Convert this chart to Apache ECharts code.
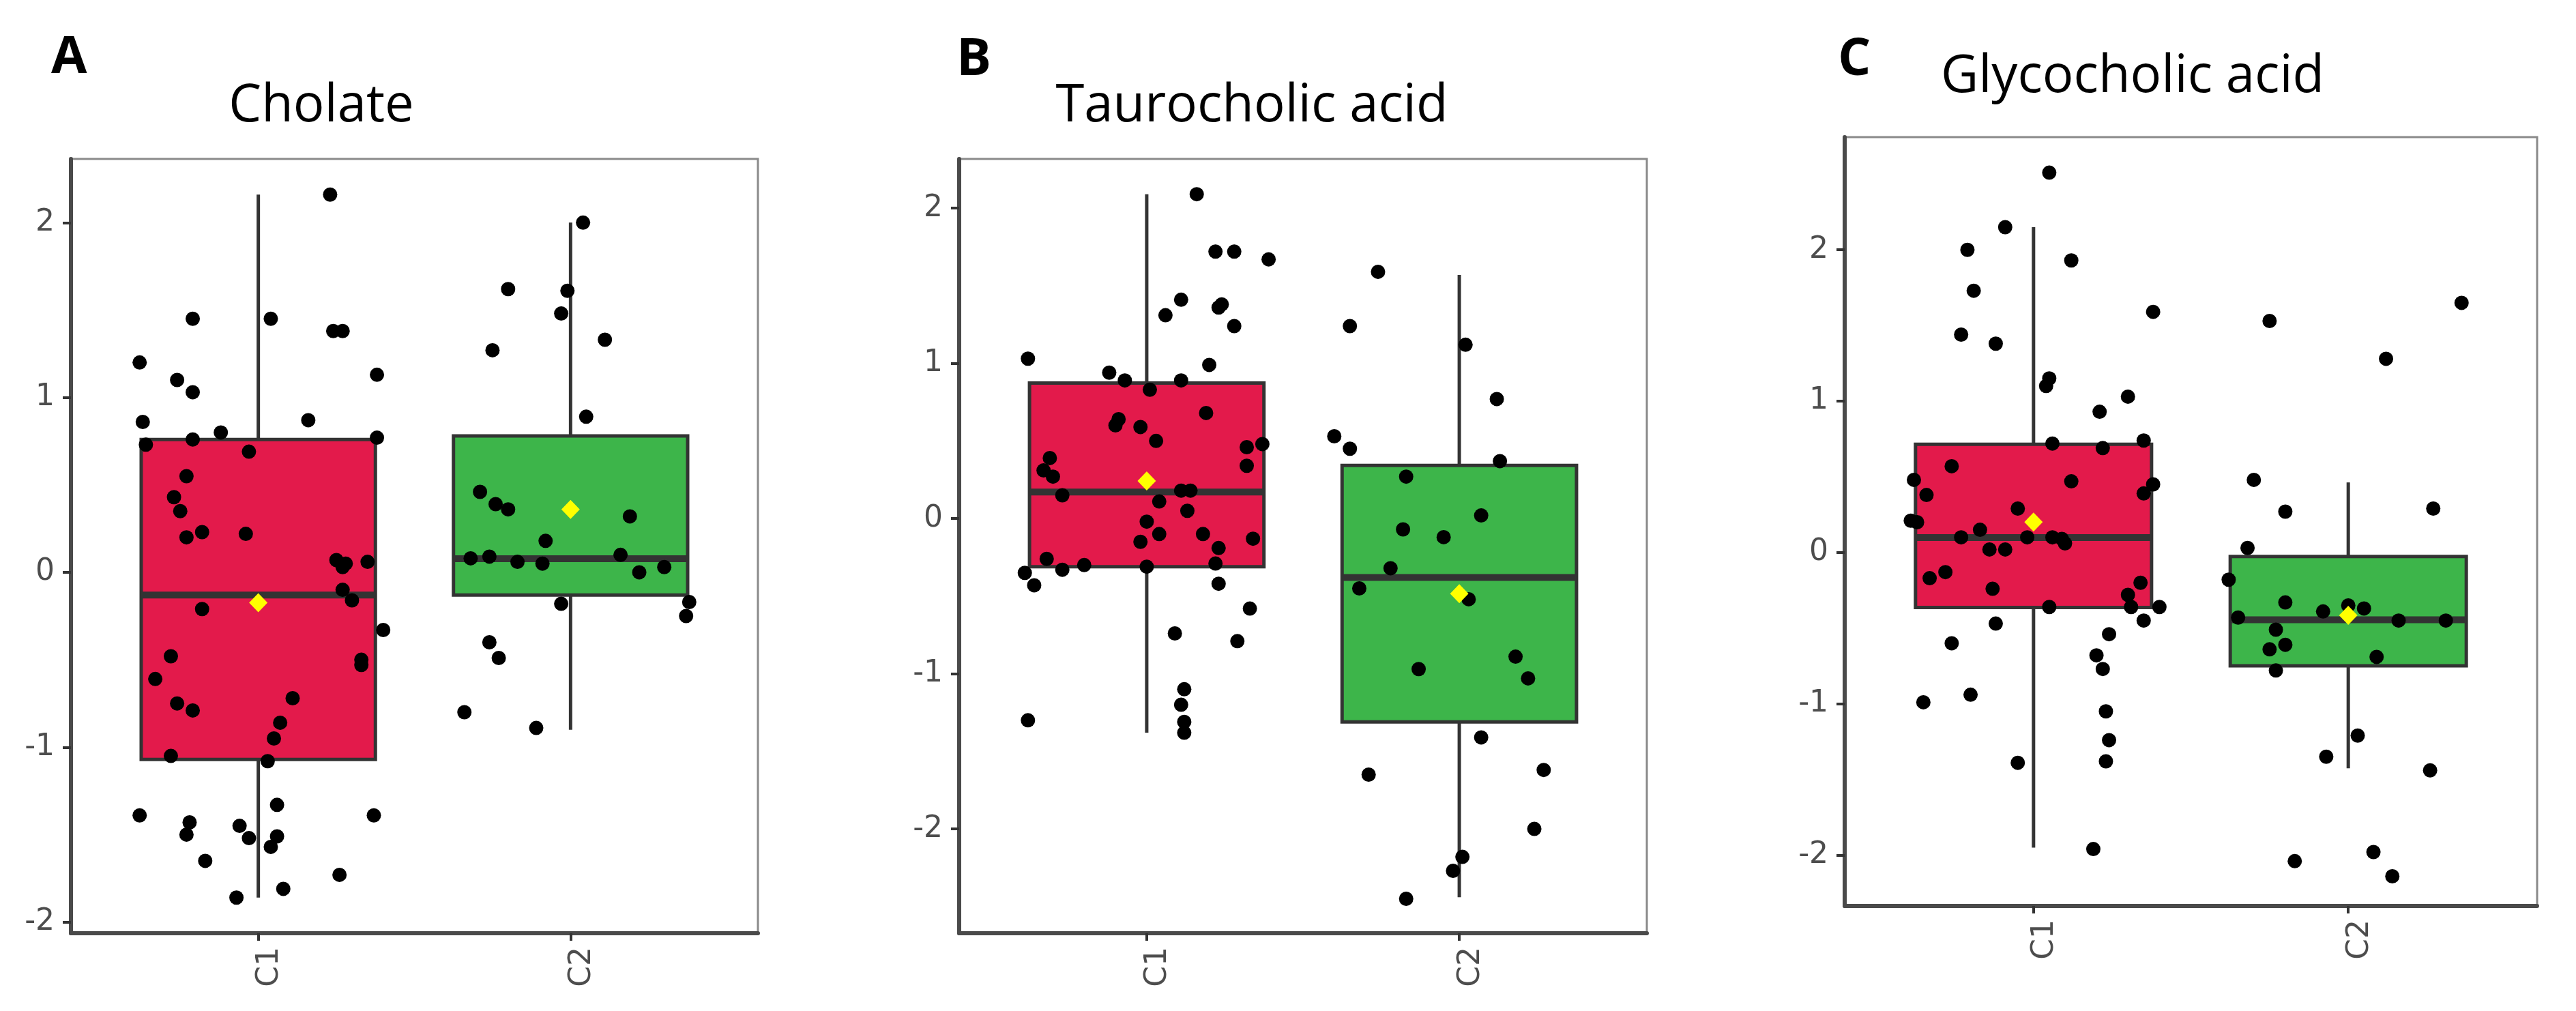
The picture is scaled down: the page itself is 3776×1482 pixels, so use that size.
<!DOCTYPE html>
<html>
<head>
<meta charset="utf-8">
<title>Bile acids boxplots</title>
<script src="https://cdn.jsdelivr.net/npm/echarts@6/dist/echarts.min.js"></script>
<style>
  html, body { margin: 0; padding: 0; background: #fff; }
  #chart { width: 3776px; height: 1482px; }
</style>
</head>
<body>
<div id="chart"></div>
<script>
// groups on the x axis (placed at 1 and 2, ggplot style)
const categories = ['C1', 'C2'];
const yTicks = [-2, -1, 0, 1, 2];

// box stats per group: [lower whisker, Q1, median, Q3, upper whisker]
const cholateBox = [[-1.86, -1.07, -0.13, 0.76, 2.16], [-0.90, -0.13, 0.078, 0.78, 2.0]];
const cholateMean = [-0.174, 0.36];
// jittered points: [x position (group units), value]
const cholatePoints = [
  [1.23, 2.16], [0.79, 1.45], [1.04, 1.45], [1.24, 1.38], [1.27, 1.38], [0.62, 1.20], [0.74, 1.10],
  [0.79, 1.03], [1.38, 1.13], [0.63, 0.86], [1.16, 0.87], [0.88, 0.80], [0.64, 0.73], [0.79, 0.76],
  [1.38, 0.77], [0.97, 0.69], [0.77, 0.55], [0.73, 0.43], [0.75, 0.35], [0.77, 0.20], [0.82, 0.23],
  [0.96, 0.22], [1.25, 0.07], [1.28, 0.05], [1.27, 0.03], [1.35, 0.06], [1.27, -0.10], [1.30, -0.16],
  [0.82, -0.21], [1.40, -0.33], [0.72, -0.48], [1.33, -0.50], [1.33, -0.53], [0.67, -0.61], [0.74, -0.75],
  [0.79, -0.79], [1.11, -0.72], [1.07, -0.86], [1.05, -0.95], [0.72, -1.05], [1.03, -1.08], [0.62, -1.39],
  [1.37, -1.39], [1.06, -1.33], [0.78, -1.43], [0.77, -1.50], [0.94, -1.45], [0.97, -1.52], [1.06, -1.51],
  [1.04, -1.57], [0.83, -1.65], [1.26, -1.73], [1.08, -1.81], [0.93, -1.86],
  [2.04, 2.00], [1.80, 1.62], [1.99, 1.61], [1.97, 1.48], [1.75, 1.27], [2.11, 1.33], [2.05, 0.89],
  [1.71, 0.46], [1.76, 0.39], [1.80, 0.36], [2.19, 0.32], [1.92, 0.18], [1.68, 0.08], [1.74, 0.09],
  [1.83, 0.06], [1.91, 0.05], [2.16, 0.10], [2.22, 0.00], [2.30, 0.03], [1.97, -0.18], [2.38, -0.17],
  [2.37, -0.25], [1.74, -0.40], [1.77, -0.49], [1.66, -0.80], [1.89, -0.89]
];

const tauroBox = [[-1.38, -0.31, 0.171, 0.873, 2.09], [-2.44, -1.31, -0.38, 0.342, 1.57]];
const tauroMean = [0.242, -0.484];
const tauroPoints = [
  [1.16, 2.09], [1.22, 1.72], [1.28, 1.72], [1.39, 1.67], [1.11, 1.41], [1.06, 1.31], [1.23, 1.36],
  [1.24, 1.38], [1.28, 1.24], [0.62, 1.03], [0.88, 0.94], [0.93, 0.89], [1.20, 0.99], [1.11, 0.89],
  [1.01, 0.83], [0.91, 0.64], [0.90, 0.60], [1.19, 0.68], [0.98, 0.59], [1.03, 0.50], [1.32, 0.46],
  [1.37, 0.48], [1.32, 0.34], [0.69, 0.39], [0.67, 0.31], [0.70, 0.27], [0.73, 0.15], [1.11, 0.18],
  [1.14, 0.18], [1.04, 0.11], [1.13, 0.05], [1.00, -0.02], [1.04, -0.10], [1.18, -0.10], [1.34, -0.13],
  [0.98, -0.15], [1.23, -0.19], [0.68, -0.26], [0.80, -0.30], [0.73, -0.33], [1.22, -0.29], [1.00, -0.31],
  [0.61, -0.35], [0.64, -0.43], [1.23, -0.42], [1.33, -0.58], [1.09, -0.74], [1.29, -0.79], [1.12, -1.10],
  [1.11, -1.20], [0.62, -1.30], [1.12, -1.31], [1.12, -1.38],
  [1.74, 1.59], [1.65, 1.24], [2.02, 1.12], [2.12, 0.77], [1.60, 0.53], [1.65, 0.45], [2.13, 0.37],
  [1.83, 0.27], [2.07, 0.02], [1.82, -0.07], [1.95, -0.12], [1.78, -0.32], [1.68, -0.45], [2.03, -0.52],
  [1.87, -0.97], [2.18, -0.89], [2.22, -1.03], [2.07, -1.41], [1.71, -1.65], [2.27, -1.62], [2.24, -2.00],
  [2.01, -2.18], [1.98, -2.27], [1.83, -2.45]
];

const glycoBox = [[-1.95, -0.364, 0.098, 0.715, 2.15], [-1.426, -0.749, -0.445, -0.026, 0.463]];
const glycoMean = [0.201, -0.415];
const glycoPoints = [
  [1.05, 2.51], [0.91, 2.15], [0.79, 2.00], [1.12, 1.93], [0.81, 1.73], [1.38, 1.59], [0.77, 1.44],
  [0.88, 1.38], [1.05, 1.15], [1.04, 1.10], [1.30, 1.03], [1.21, 0.93], [1.22, 0.69], [1.06, 0.72],
  [1.35, 0.74], [0.74, 0.57], [0.62, 0.48], [1.12, 0.47], [1.38, 0.45], [0.66, 0.38], [1.35, 0.39],
  [0.95, 0.29], [0.61, 0.21], [0.63, 0.20], [0.83, 0.15], [0.77, 0.10], [0.98, 0.10], [1.06, 0.10],
  [1.09, 0.09], [1.10, 0.06], [0.86, 0.02], [0.91, 0.02], [0.67, -0.17], [0.72, -0.13], [1.34, -0.20],
  [0.87, -0.24], [1.30, -0.28], [1.05, -0.36], [1.31, -0.36], [1.40, -0.36], [1.35, -0.45], [0.88, -0.47],
  [1.24, -0.54], [0.74, -0.60], [1.20, -0.68], [1.22, -0.77], [0.80, -0.94], [0.65, -0.99], [1.23, -1.05],
  [1.24, -1.24], [1.23, -1.38], [0.95, -1.39], [1.19, -1.96],
  [2.36, 1.65], [1.75, 1.53], [2.12, 1.28], [1.70, 0.48], [2.27, 0.29], [1.80, 0.27], [1.68, 0.03],
  [1.62, -0.18], [1.80, -0.33], [2.00, -0.35], [2.05, -0.37], [1.92, -0.39], [1.65, -0.43], [2.16, -0.45],
  [2.31, -0.45], [1.77, -0.51], [1.80, -0.61], [1.75, -0.64], [2.09, -0.69], [1.77, -0.78], [2.03, -1.21],
  [1.93, -1.35], [2.26, -1.44], [2.08, -1.98], [1.83, -2.04], [2.14, -2.14]
];

// layout of the three panels
const panels = [
  { tag: 'A', title: 'Cholate', box: cholateBox, mean: cholateMean, points: cholatePoints,
    yMin: -2.064, yMax: 2.364, grid: { left: 104, top: 233, width: 1007, height: 1135 },
    tagPos: [75, 85], titlePos: [471, 156] },
  { tag: 'B', title: 'Taurocholic acid', box: tauroBox, mean: tauroMean, points: tauroPoints,
    yMin: -2.672, yMax: 2.317, grid: { left: 1406, top: 233, width: 1008, height: 1135 },
    tagPos: [1402, 88], titlePos: [1835, 156] },
  { tag: 'C', title: 'Glycocholic acid', box: glycoBox, mean: glycoMean, points: glycoPoints,
    yMin: -2.336, yMax: 2.745, grid: { left: 2704, top: 201, width: 1015, height: 1127 },
    tagPos: [2694, 88], titlePos: [3126, 113] }
];

const FILLS = ['#E31A4B', '#3DB54A'];
const INK = '#333333';
const BOX_HALF = 0.375;
const axisFont = { fontFamily: 'DejaVu Sans', fontSize: 44, color: '#4D4D4D' };

function renderBox(params, api) {
  const x = api.value(0);
  const lo = api.value(1), q1 = api.value(2), med = api.value(3), q3 = api.value(4), hi = api.value(5);
  const tl = api.coord([x - BOX_HALF, q3]);
  const br = api.coord([x + BOX_HALF, q1]);
  const mL = api.coord([x - BOX_HALF, med]);
  const mR = api.coord([x + BOX_HALF, med]);
  const pHi = api.coord([x, hi]);
  const pLo = api.coord([x, lo]);
  const line = { stroke: INK, lineWidth: 5 };
  return {
    type: 'group',
    children: [
      { type: 'line', shape: { x1: pHi[0], y1: pHi[1], x2: pHi[0], y2: tl[1] }, style: line },
      { type: 'line', shape: { x1: pLo[0], y1: br[1], x2: pLo[0], y2: pLo[1] }, style: line },
      { type: 'rect', shape: { x: tl[0], y: tl[1], width: br[0] - tl[0], height: br[1] - tl[1] },
        style: { fill: FILLS[params.dataIndex], stroke: INK, lineWidth: 5 } },
      { type: 'line', shape: { x1: mL[0], y1: mL[1], x2: mR[0], y2: mR[1] }, style: { stroke: INK, lineWidth: 10 } }
    ]
  };
}

const grid = [], xAxis = [], yAxis = [], series = [], graphic = [];

panels.forEach((p, i) => {
  grid.push(Object.assign({ show: true, borderColor: '#8a8a8a', borderWidth: 3, backgroundColor: '#fff' }, p.grid));

  xAxis.push({
    gridIndex: i, type: 'value', min: 0.4, max: 2.6,
    splitLine: { show: false },
    axisLine: { onZero: false, lineStyle: { color: '#4a4a4a', width: 6 } },
    axisTick: { customValues: [1, 2], length: 11, lineStyle: { color: INK, width: 4 } },
    axisLabel: Object.assign({
      customValues: [1, 2], rotate: 90, margin: 20, verticalAlign: 'top', lineHeight: 34,
      formatter: (v) => categories[Math.round(v) - 1]
    }, axisFont)
  });

  yAxis.push({
    gridIndex: i, type: 'value', min: p.yMin, max: p.yMax,
    splitLine: { show: false },
    axisLine: { onZero: false, lineStyle: { color: '#4a4a4a', width: 6 } },
    axisTick: { customValues: yTicks, length: 12, lineStyle: { color: INK, width: 4 } },
    axisLabel: Object.assign({ customValues: yTicks, margin: 24, formatter: (v) => String(v) }, axisFont)
  });

  series.push({
    type: 'custom', xAxisIndex: i, yAxisIndex: i, z: 2,
    renderItem: renderBox,
    encode: { x: 0, y: [1, 2, 3, 4, 5] },
    data: p.box.map((b, k) => [k + 1].concat(b))
  });
  series.push({
    type: 'scatter', xAxisIndex: i, yAxisIndex: i, z: 3,
    symbolSize: 21, itemStyle: { color: '#000', opacity: 1 },
    data: p.points
  });
  series.push({
    type: 'scatter', xAxisIndex: i, yAxisIndex: i, z: 4,
    symbol: 'diamond', symbolSize: [27, 28], itemStyle: { color: '#FFFF00', opacity: 1 },
    data: p.mean.map((m, k) => [k + 1, m])
  });

  graphic.push({
    type: 'text', x: p.tagPos[0], y: p.tagPos[1],
    style: { text: p.tag, font: 'bold 76px "Open Sans"', fill: '#000', align: 'left', verticalAlign: 'middle' }
  });
  graphic.push({
    type: 'text', x: p.titlePos[0], y: p.titlePos[1],
    style: { text: p.title, font: '76px "Open Sans"', fill: '#000', align: 'center', verticalAlign: 'middle' }
  });
});

const chart = echarts.init(document.getElementById('chart'), null, { renderer: 'canvas' });
chart.setOption({
  animation: false,
  backgroundColor: '#fff',
  grid, xAxis, yAxis, series, graphic
});
</script>
</body>
</html>
